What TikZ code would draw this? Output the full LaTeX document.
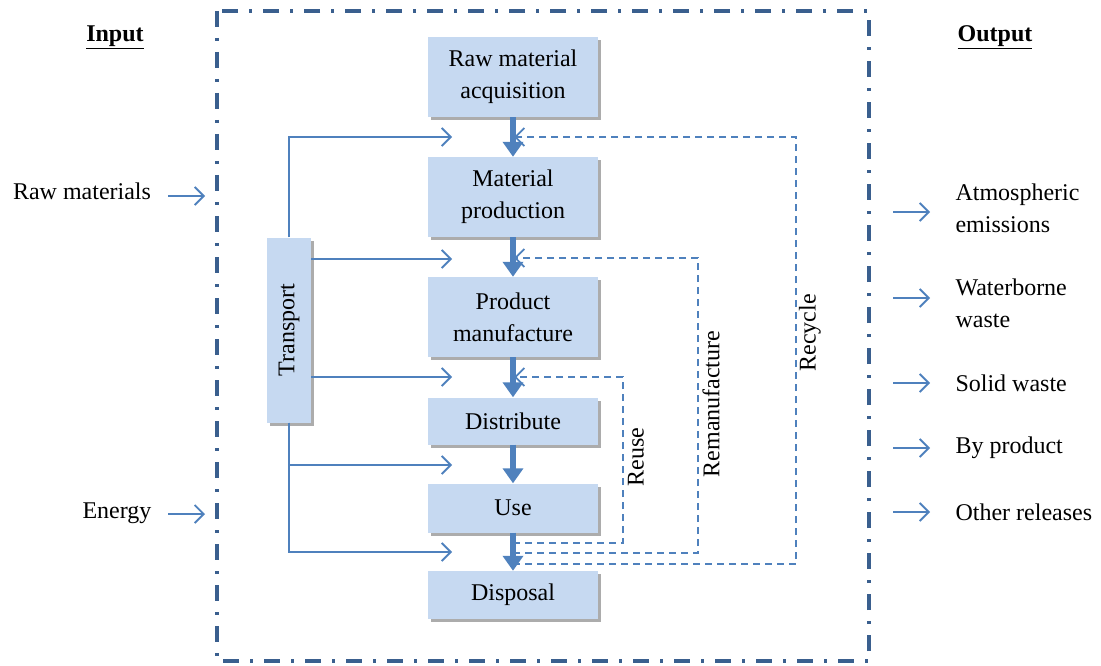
\documentclass[tikz,border=0pt]{standalone}
\usepackage{fontspec}
\setmainfont{Liberation Serif}
\usetikzlibrary{arrows.meta,shadows}
\definecolor{boxfill}{HTML}{C6D9F1}
\definecolor{flowblue}{HTML}{4F81BD}
\definecolor{framebl}{HTML}{3A5F8E}
\begin{document}
\begin{tikzpicture}[x=1pt,y=-1pt,
  every node/.style={font=\fontsize{24}{32}\selectfont, text=black},
  stage/.style={draw=none, fill=boxfill, minimum width=170pt, align=center, inner sep=0pt,
    drop shadow={shadow xshift=3pt, shadow yshift=-3pt, fill=black!50, opacity=0.65}},
  mainflow/.style={draw=flowblue, line width=5.5pt, -{Triangle[width=20pt,length=15pt]}},
  feed/.style={draw=flowblue, line width=1.8pt, -{Straight Barb[length=9pt,width=18pt]}},
  ret/.style={draw=flowblue, line width=1.8pt, dash pattern=on 7pt off 5pt,
    -{Straight Barb[length=9pt,width=18pt]}},
  sidearrow/.style={draw=flowblue, line width=1.8pt, -{Straight Barb[length=9pt,width=18pt]}},
  boundary/.style={draw=framebl, line width=3.5pt, dash pattern=on 16pt off 11pt on 3pt off 11pt}
]
\useasboundingbox (0,0) rectangle (1101,666);

% system boundary
\draw[boundary] (217,11) rectangle (869,661);

% life-cycle stages
\node[stage, minimum height=80pt] (rma) at (513,77) {Raw material\\acquisition};
\node[stage, minimum height=80pt] (mp) at (513,197) {Material\\production};
\node[stage, minimum height=80pt] (pm) at (513,317) {Product\\manufacture};
\node[stage, minimum height=47pt] (di) at (513,421) {Distribute};
\node[stage, minimum height=49pt] (us) at (513,508) {Use};
\node[stage, minimum height=48pt] (dp) at (513,595) {Disposal};

% transport feeds (drawn first so the box sits above the trunk line)
\coordinate (f1) at (452,137);
\coordinate (f2) at (452,259);
\coordinate (f3) at (452,377);
\coordinate (f4) at (452,465);
\coordinate (f5) at (452,552);
\node[stage, minimum width=44pt, minimum height=185pt] (tr) at (289,330) {};
\draw[feed] (tr.north) |- (f1);
\draw[feed] (tr.south) |- (f4);
\draw[feed] (tr.south) |- (f5);
\draw[feed] (tr.east |- f2) -- (f2);
\draw[feed] (tr.east |- f3) -- (f3);
\node[rotate=90] (trl) at (tr.center) {Transport};

% main flow
\draw[mainflow] (rma) -- (mp);
\draw[mainflow] (mp) -- (pm);
\draw[mainflow] (pm) -- (di);
\draw[mainflow] (di) -- (us);
\draw[mainflow] (us) -- (dp);

% end-of-life loops
\coordinate (reuseA) at (513,543);
\coordinate (reuseB) at (623,377);
\coordinate (reuseE) at (514,377);
\coordinate (remA) at (513,553);
\coordinate (remB) at (698,258);
\coordinate (remE) at (514,258);
\coordinate (recA) at (513,564);
\coordinate (recB) at (796,137);
\coordinate (recE) at (514,137);
\draw[ret] (reuseA) -| (reuseB) -- (reuseE);
\draw[ret] (remA) -| (remB) -- (remE);
\draw[ret] (recA) -| (recB) -- (recE);
\node[rotate=90] (lreuse) at (636,457) {Reuse};
\node[rotate=90] (lrem) at (711,404) {Remanufacture};
\node[rotate=90] (lrec) at (810,333) {Recycle};

% inputs
\node (inh) at (115,37) {\underline{\textbf{Input}}};
\node (rawm) at (82,191) {Raw materials};
\node (ener) at (117,513) {Energy};
\coordinate (rawE) at (205,196);
\coordinate (enE) at (205,514);
\draw[sidearrow] (168,196) -- (rawE);
\draw[sidearrow] (168,514) -- (enE);

% outputs
\node (outh) at (995,37) {\underline{\textbf{Output}}};
\node[anchor=west, align=left] (o1) at (952,208) {Atmospheric\\emissions};
\node[anchor=west, align=left] (o2) at (952,303) {Waterborne\\waste};
\node[anchor=west] (o3) at (952,383) {Solid waste};
\node[anchor=west] (o4) at (952,448) {By product};
\node[anchor=west] (o5) at (952,512) {Other releases};
\foreach \y/\n in {212/1,298/2,383/3,448/4,512/5}{
  \coordinate (oS\n) at (893,\y);
  \draw[sidearrow] (oS\n) -- ++(37,0);
}
\end{tikzpicture}
\end{document}
